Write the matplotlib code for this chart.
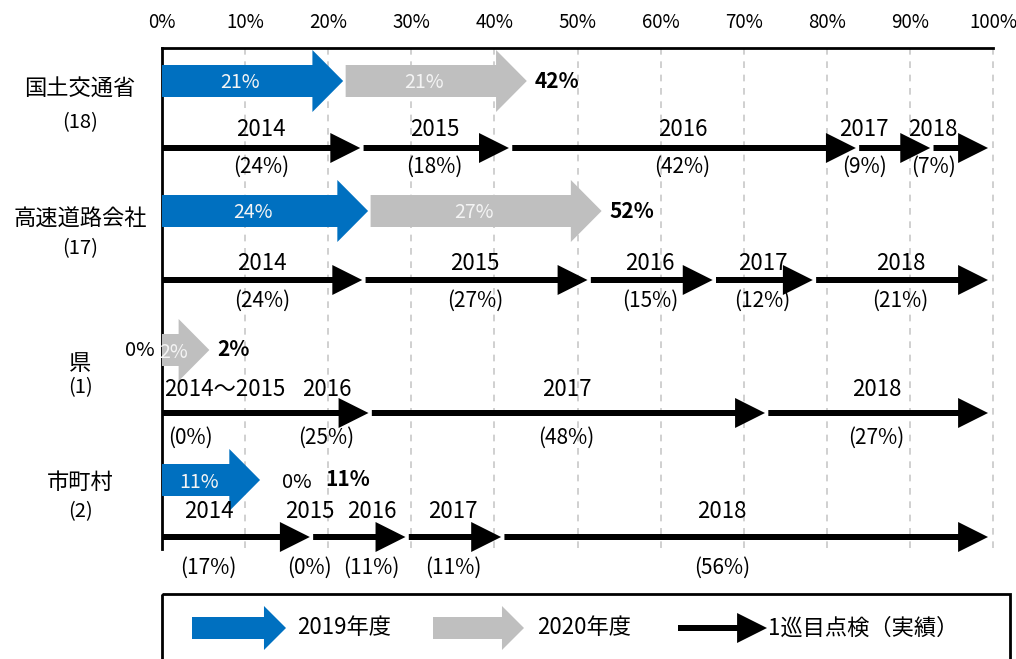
import matplotlib.pyplot as plt
from matplotlib.patches import Polygon, Rectangle

plt.rcParams['font.family'] = ['Noto Sans CJK JP', 'DejaVu Sans']

# ---- data -------------------------------------------------------------
groups = ["国土交通省", "高速道路会社", "県", "市町村"]
group_counts = [18, 17, 1, 2]
plan_2019 = [21, 24, 0, 11]
plan_2020 = [21, 27, 2, 0]
plan_total = [42, 52, 2, 11]
first_years = [
    ["2014", "2015", "2016", "2017", "2018"],
    ["2014", "2015", "2016", "2017", "2018"],
    ["2014～2015", "2016", "2017", "2018"],
    ["2014", "2015", "2016", "2017", "2018"],
]
first_shares = [
    [24, 18, 42, 9, 7],
    [24, 27, 15, 12, 21],
    [0, 25, 48, 27],
    [17, 0, 11, 11, 56],
]
tick_values = list(range(0, 101, 10))

# ---- layout (pixel rows, x in %) --------------------------------------
BLUE = "#0070C0"
GRAY = "#BFBFBF"
PX = 8.31                 # pixels per percent
X0 = 162                  # pixel of 0 %
ROW_MAIN_Y = [81, 211, 350, 480]
ROW_LINE_Y = [148, 280, 413, 537]
ROW_YEAR_DY = [-18, -16, -23, -25]
ROW_PCT_DY = [19, 21, 25, 31]
ROW_NAME_Y = [88, 219, 363, 482]
ROW_SUB_Y = [123, 249, 388, 512]
LABEL_X = {(0, 3): 84.5, (0, 4): 92.8, (2, 1): 19.8, (3, 0): 5.6, (3, 2): 25.2,
           (3, 4): 67.4}
END = 99.4
TOP, BOTTOM = 48, 549


def px(p):
    return (p - X0) / PX


def block_arrow(ax, x0, x1, y, body, head, head_len, color, z=3):
    xs = x1 - min(head_len, x1 - x0)
    pts = [(x0, y - body), (xs, y - body), (xs, y - head), (x1, y),
           (xs, y + head), (xs, y + body), (x0, y + body)]
    ax.add_patch(Polygon(pts, closed=True, fc=color, ec="none", zorder=z))


def plan_arrow(ax, start, value, y, color):
    hl = 3.7
    length = value + 0.8 if value > 2 * hl else value + hl
    block_arrow(ax, start, start + length, y, 16, 31, hl, color)
    label_x = (start + start + length) / 2 - hl * 0.4
    ax.text(label_x, y + 2, f"{value}%", color="#f4f4f4", fontsize=14,
            ha="center", va="center", zorder=4)
    return start + length


fig = plt.figure(figsize=(10.16, 6.59), dpi=100)
ax = fig.add_axes([0, 0, 1, 1])
ax.set_xlim(px(0), px(1016))
ax.set_ylim(659, 0)
ax.set_axis_off()

# grid and frame
for v in tick_values[1:]:
    ax.plot([v, v], [TOP, BOTTOM], color="#c8c8c8", lw=1.2,
            ls=(0, (4, 4)), zorder=1)
ax.plot([0, 100], [TOP, TOP], color="black", lw=2, zorder=2)
ax.plot([0, 0], [TOP, BOTTOM], color="black", lw=2, zorder=2)
for v in tick_values:
    ax.text(v, 22, f"{v}%", fontsize=13.5, ha="center", va="center")

for i, name in enumerate(groups):
    ax.text(px(80), ROW_NAME_Y[i], name, fontsize=16, ha="center", va="center")
    ax.text(px(80), ROW_SUB_Y[i], f"({group_counts[i]})", fontsize=14.5,
            ha="center", va="center")

    y = ROW_MAIN_Y[i]
    pos = 0.0
    if plan_2019[i] > 0:
        pos = plan_arrow(ax, 0, plan_2019[i], y, BLUE) + 0.3
    else:
        ax.text(-0.9, y, "0%", fontsize=14.5, ha="right", va="center")
    if plan_2020[i] > 0:
        pos = plan_arrow(ax, pos, plan_2020[i], y, GRAY) + 1.0
    else:
        ax.text(pos + 2.3, y + 2, "0%", fontsize=14.5, ha="left", va="center")
        pos += 7.5
    ax.text(pos, y, f"{plan_total[i]}%", fontsize=15, fontweight="bold",
            ha="left", va="center")

    # first inspection round arrows
    ly = ROW_LINE_Y[i]
    scale = END / sum(first_shares[i])
    cum = 0.0
    for j, (yr, sh) in enumerate(zip(first_years[i], first_shares[i])):
        a = cum * scale
        cum += sh
        b = cum * scale
        if sh > 0:
            block_arrow(ax, a + (0.4 if a > 0 else 0), b, ly, 3, 15, 3.6, "black")
        cx = LABEL_X.get((i, j), (a + b) / 2)
        if sh == 0 and a == 0:
            ax.text(0.3, ly + ROW_YEAR_DY[i], yr, fontsize=16, ha="left", va="center")
            ax.text(3.4, ly + ROW_PCT_DY[i], f"({sh}%)", fontsize=15,
                    ha="center", va="center")
            continue
        ax.text(cx, ly + ROW_YEAR_DY[i], yr, fontsize=16, ha="center", va="center")
        ax.text(cx, ly + ROW_PCT_DY[i], f"({sh}%)", fontsize=15,
                ha="center", va="center")

# legend box
ax.add_patch(Rectangle((0, 594), px(1010), 120, fill=False, ec="black", lw=2,
                       zorder=2, clip_on=True))
ly = 628
block_arrow(ax, px(192), px(286), ly, 11, 22, 2.65, BLUE)
ax.text(px(297), ly, "2019年度", fontsize=16, ha="left", va="center")
block_arrow(ax, px(433), px(524), ly, 11, 22, 2.65, GRAY)
ax.text(px(537), ly, "2020年度", fontsize=16, ha="left", va="center")
block_arrow(ax, px(678), px(767), ly, 3, 15, 3.6, "black")
ax.text(px(768), ly, "1巡目点検（実績）", fontsize=16, ha="left", va="center")

fig.savefig("out.png", dpi=100)
